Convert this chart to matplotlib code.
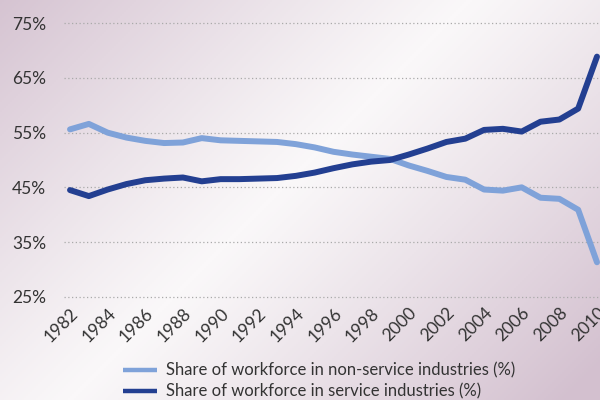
import numpy as np
import matplotlib.pyplot as plt
import matplotlib.transforms as mtransforms
from matplotlib.colors import LinearSegmentedColormap

# share of workforce by industry type, 1982-2010
years = list(range(1982, 2011))
non_service = [55.6, 56.6, 55.0, 54.1, 53.5, 53.1, 53.2, 54.0, 53.6, 53.5,
               53.4, 53.3, 52.9, 52.3, 51.5, 51.0, 50.6, 50.2, 49.0, 48.0,
               46.9, 46.4, 44.6, 44.4, 45.0, 43.1, 42.9, 40.9, 31.3]
service = [44.5, 43.4, 44.6, 45.6, 46.3, 46.6, 46.8, 46.1, 46.5, 46.5,
           46.6, 46.7, 47.1, 47.7, 48.5, 49.2, 49.7, 50.0, 51.0, 52.1,
           53.3, 53.9, 55.5, 55.7, 55.2, 57.0, 57.4, 59.4, 68.9]
y_ticks = [25, 35, 45, 55, 65, 75]
x_ticks = list(range(1982, 2011, 2))

plt.rcParams['font.family'] = ['Lato', 'DejaVu Sans']
text_col = '#333333'
light = '#7fa2d9'
dark = '#233f91'

fig = plt.figure(figsize=(6, 4), dpi=100)

# background: lavender corners, pale band across the middle
bg = fig.add_axes([0, 0, 1, 1], zorder=0)
xx, yy = np.meshgrid(np.linspace(0, 600, 300), np.linspace(0, 400, 200))
t = (xx + yy) / 1000.0
dist = np.clip(np.abs(t - 0.47) / 0.5, 0, 1) ** 1.1
cmap = LinearSegmentedColormap.from_list('bg', ['#faf8f9', '#d3c0cf'])
bg.imshow(dist, cmap=cmap, aspect='auto', extent=[0, 1, 0, 1], origin='upper')
bg.axis('off')

ax = fig.add_axes([64 / 600, 0.25, 536 / 600, 0.70], zorder=1)
ax.patch.set_alpha(0)
ax.plot(years, non_service, color=light, lw=4.3, solid_joinstyle='round',
        solid_capstyle='round', label='Share of workforce in non-service industries (%)')
ax.plot(years, service, color=dark, lw=4.3, solid_joinstyle='round',
        solid_capstyle='round', label='Share of workforce in service industries (%)')

ax.set_xlim(1981.68, 2010.16)
ax.set_ylim(24.4, 75.6)
ax.set_yticks(y_ticks)
ax.set_yticklabels([f'{v}%' for v in y_ticks])
ax.set_xticks(x_ticks)
ax.set_xticklabels([str(v) for v in x_ticks], rotation=45, ha='right',
                   va='top', rotation_mode='anchor')
offset = mtransforms.ScaledTranslation(8 / 72, -2 / 72, fig.dpi_scale_trans)
for lab in ax.get_xticklabels():
    lab.set_transform(lab.get_transform() + offset)

ax.tick_params(axis='both', length=0, labelsize=12.5, colors=text_col)
ax.tick_params(axis='y', pad=13)
ax.grid(axis='y', linestyle=(0, (1, 2)), color='#aaaaaa', lw=0.9)
ax.set_axisbelow(True)
for s in ax.spines.values():
    s.set_visible(False)

leg = fig.legend(loc='upper left', bbox_to_anchor=(115 / 600, 1 - 354 / 400),
                 frameon=False, fontsize=12, handlelength=2.0,
                 handletextpad=0.55, labelspacing=0.3, borderpad=0)
for txt in leg.get_texts():
    txt.set_color(text_col)
for h in leg.legend_handles:
    h.set_linewidth(3.2)
    h.set_solid_capstyle('butt')

fig.savefig('out.png', dpi=100)
